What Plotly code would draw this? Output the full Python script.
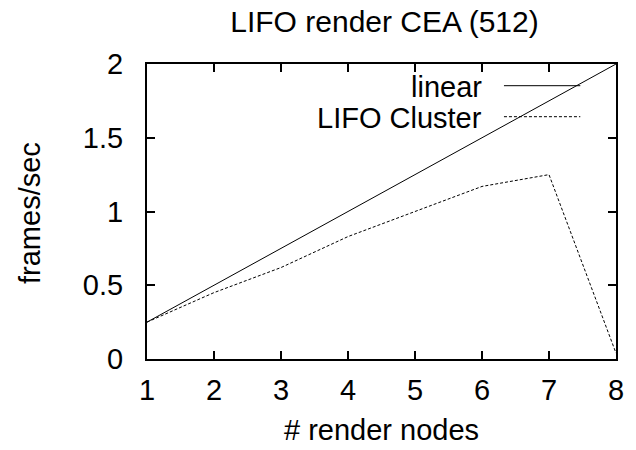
import plotly.graph_objects as go

nodes = [1, 2, 3, 4, 5, 6, 7, 8]
linear = [0.25, 0.5, 0.75, 1.0, 1.25, 1.5, 1.75, 2.0]
lifo = [0.25, 0.45, 0.62, 0.83, 1.0, 1.17, 1.25, 0.04]
x_ticks = [1, 2, 3, 4, 5, 6, 7, 8]
y_ticks = [0, 0.5, 1, 1.5, 2]
y_tick_text = ["0", "0.5", "1", "1.5", "2"]

FONT = "Liberation Sans, Arial, sans-serif"
FS = 29
L, R, T, B = 147, 16, 64, 91
W, H = 636, 450
pw, ph = W - L - R, H - T - B

def px(x):
    return (x - L) / pw

def py(y):
    return (H - B - y) / ph

fig = go.Figure()
fig.add_trace(go.Scatter(x=nodes, y=linear, mode="lines", name="linear",
                         line=dict(color="black", width=1), showlegend=False))
fig.add_trace(go.Scatter(x=nodes, y=lifo, mode="lines", name="LIFO Cluster",
                         line=dict(color="black", width=1, dash="3px,2px"), showlegend=False))

axis_common = dict(showgrid=False, zeroline=False, showline=True, linecolor="black",
                   linewidth=2, mirror="ticks", ticks="inside", ticklen=8, tickwidth=1.5,
                   tickcolor="black", tickfont=dict(family=FONT, size=FS, color="black"))

fig.update_xaxes(range=[1, 8], tickvals=x_ticks, ticktext=[str(v) for v in x_ticks],
                 ticklabelstandoff=4, **axis_common)
fig.update_yaxes(range=[0, 2], tickvals=y_ticks, ticktext=y_tick_text,
                 ticklabelstandoff=16, **axis_common)

# axis titles
fig.add_annotation(text="# render nodes", xref="paper", yref="paper", x=px(383), y=py(430),
                   xanchor="center", yanchor="middle", showarrow=False,
                   font=dict(family=FONT, size=FS, color="black"))
fig.add_annotation(text="frames/sec", xref="paper", yref="paper", x=px(29), y=py(213),
                   xanchor="center", yanchor="middle", showarrow=False, textangle=-90,
                   font=dict(family=FONT, size=FS, color="black"))

# gnuplot-style legend: text on the left, line sample on the right
legend_rows = [("linear", 85.7, "solid"), ("LIFO Cluster", 116.7, "3px,2px")]
for label, ypix, dash in legend_rows:
    fig.add_annotation(text=label, xref="paper", yref="paper", x=px(487), y=py(ypix + 1),
                       xanchor="right", yanchor="middle", showarrow=False,
                       font=dict(family=FONT, size=FS, color="black"))
    fig.add_shape(type="line", xref="paper", yref="paper", x0=px(507), x1=px(584),
                  y0=py(ypix), y1=py(ypix), line=dict(color="black", width=1, dash=dash))

fig.update_layout(
    width=W, height=H,
    margin=dict(l=L, r=R, t=T, b=B),
    paper_bgcolor="white", plot_bgcolor="white",
    title=dict(text="LIFO render CEA (512)", x=384.5 / W, xanchor="center", y=1 - 21 / H, yanchor="middle",
               font=dict(family=FONT, size=FS + 1, color="black")),
)

fig.write_html("out.html", config={"displayModeBar": False},
               post_script="document.body.style.margin='0';")
